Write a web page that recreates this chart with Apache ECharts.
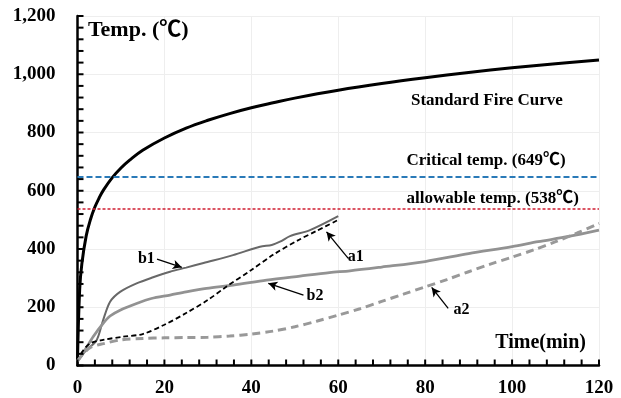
<!DOCTYPE html>
<html>
<head>
<meta charset="utf-8">
<script src="https://cdn.jsdelivr.net/npm/echarts@6/dist/echarts.min.js"></script>
<style>
  html, body { margin: 0; padding: 0; background: #fff; }
  #chart { width: 621px; height: 398px; }
</style>
</head>
<body>
<div id="chart"></div>
<script>
// Standard fire curve (furnace temperature)
const fireTime = [0, 0.5, 1, 2, 3, 4, 5, 6, 8, 10, 12, 15, 20, 25, 30, 35, 40, 45, 50, 60, 70, 80, 90, 100, 110, 120];
const fireTemp = [20, 261, 349, 445, 502, 544, 576, 603, 645, 678, 705, 739, 781, 815, 842, 865, 885, 902, 918, 945, 968, 988, 1006, 1022, 1036, 1049];

// Measured steel temperatures
const b1Time = [0, 2, 4.4, 5.9, 7.5, 9.8, 13.6, 17.4, 21.3, 25, 29, 35.8, 42, 44.7, 46.6, 48.9, 53.5, 60];
const b1Temp = [15, 52, 87, 156, 219, 253, 282, 303, 322, 336, 352, 379, 408, 414, 425, 444, 465, 513];

const b2Time = [0, 1, 2, 3.6, 5.9, 7.5, 9.8, 13.6, 17, 21.3, 25, 29.7, 35.8, 43.5, 51.2, 58, 62.7, 70, 80, 90, 100, 106, 113, 120];
const b2Temp = [15, 35, 60, 99, 145, 170, 190, 213, 230, 242, 253, 265, 276, 293, 307, 319, 325, 338, 357, 384, 408, 425, 443, 465];

const a1Time = [0, 1, 2.9, 5.9, 10.5, 15, 20, 25, 30, 34, 40, 45, 51, 55, 60];
const a1Temp = [15, 45, 76, 88, 99, 108, 140, 180, 225, 268, 328, 380, 432, 462, 500];

const a2Time = [0, 1, 3, 6, 10, 15, 20, 25, 30, 35, 40, 45, 50, 55, 60, 65, 70, 75, 80, 85, 90, 95, 100, 105, 110, 115, 120];
const a2Temp = [15, 35, 62, 75, 88, 93, 95, 96, 97, 101, 108, 118, 133, 152, 173, 195, 220, 245, 270, 295, 322, 348, 372, 397, 425, 455, 488];

// Limit temperatures
const criticalTemp = 649;
const allowableTemp = 538;

// Axis ranges
const xMin = 0, xMax = 120, xStep = 20;
const yMin = 0, yMax = 1200, yStep = 200;
const minorSplits = 5;

// Text annotations placed in data space
const curveLabels = [
  { text: 'b1', at: [17.8, 366], align: 'right' },
  { text: 'b2', at: [52.7, 239], align: 'left' },
  { text: 'a1', at: [62.2, 372], align: 'left' },
  { text: 'a2', at: [86.5, 190], align: 'left' }
];
const arrowLines = [
  [[18.3, 365], [24.0, 337]],
  [[52.0, 242], [43.9, 282]],
  [[62.3, 368], [57.3, 459]],
  [[85.3, 196], [81.5, 268]]
];
const titleLabels = [
  { text: 'Standard Fire Curve', at: [94.2, 911], align: 'center', size: 17 },
  { text: 'Critical temp. (649\u2103)', at: [75.7, 702], align: 'left', size: 17 },
  { text: 'allowable temp. (538\u2103)', at: [75.7, 574], align: 'left', size: 17 },
  { text: 'Temp. (\u2103)', at: [2.4, 1152], align: 'left', size: 22 },
  { text: 'Time(min)', at: [117, 77], align: 'right', size: 20 }
];

const FONT = "'Liberation Serif', 'Times New Roman', 'Noto Sans CJK SC', serif";
const zip = (xs, ys) => xs.map((x, i) => [x, ys[i]]);

// Tick positions along each axis (major + minor)
const xTickVals = [];
for (let v = xMin; v <= xMax + 1e-9; v += xStep / minorSplits) xTickVals.push(+v.toFixed(6));
const yTickVals = [];
for (let v = yMin; v <= yMax + 1e-9; v += yStep / minorSplits) yTickVals.push(+v.toFixed(6));

const chart = echarts.init(document.getElementById('chart'));

chart.setOption({
  animation: false,
  grid: { left: 77.5, right: 22, top: 16, bottom: 32.5 },
  xAxis: {
    type: 'value', min: xMin, max: xMax, interval: xStep,
    axisLine: { show: true, lineStyle: { color: '#000', width: 2.5 } },
    axisTick: { show: false },
    splitLine: { show: true, lineStyle: { color: '#eeeeee', width: 1 } },
    axisLabel: { color: '#000', fontFamily: FONT, fontWeight: 'bold', fontSize: 19, margin: 13 }
  },
  yAxis: {
    type: 'value', min: yMin, max: yMax, interval: yStep,
    axisLine: { show: true, lineStyle: { color: '#000', width: 2.5 } },
    axisTick: { show: false },
    splitLine: { show: true, lineStyle: { color: '#eeeeee', width: 1 } },
    axisLabel: {
      color: '#000', fontFamily: FONT, fontWeight: 'bold', fontSize: 19, margin: 22,
      formatter: v => v.toLocaleString('en-US')
    }
  },
  series: [
    {
      name: 'Standard Fire Curve', type: 'line', data: zip(fireTime, fireTemp),
      showSymbol: false, smooth: 0.4,
      lineStyle: { color: '#000', width: 3 },
      markLine: {
        silent: true, symbol: ['none', 'none'],
        label: { show: false },
        data: [
          { yAxis: criticalTemp, lineStyle: { color: '#2a7ab8', width: 2, type: [6, 3] } },
          { yAxis: allowableTemp, lineStyle: { color: '#d01c30', width: 1.5, type: [3, 2] } }
        ]
      }
    },
    {
      name: 'b1', type: 'line', data: zip(b1Time, b1Temp),
      showSymbol: false, smooth: 0.3,
      lineStyle: { color: '#686868', width: 2 }
    },
    {
      name: 'b2', type: 'line', data: zip(b2Time, b2Temp),
      showSymbol: false, smooth: 0.3,
      lineStyle: { color: '#929292', width: 2.8 }
    },
    {
      name: 'a1', type: 'line', data: zip(a1Time, a1Temp),
      showSymbol: false, smooth: 0.3,
      lineStyle: { color: '#000', width: 1.8, type: [5, 3] }
    },
    {
      name: 'a2', type: 'line', data: zip(a2Time, a2Temp),
      showSymbol: false, smooth: 0.3,
      lineStyle: { color: '#999', width: 3, type: [8, 5] }
    },
    {
      name: 'pointers', type: 'line', data: [],
      markLine: {
        silent: true, symbol: ['none', 'arrow'], symbolSize: [7, 9],
        label: { show: false },
        lineStyle: { color: '#000', width: 1.3, type: 'solid' },
        data: arrowLines.map(([p, q]) => [{ coord: p }, { coord: q }])
      }
    },
    // Inward comb ticks on the time axis
    {
      name: 'xTicks', type: 'scatter', silent: true, clip: false, z: 10,
      data: xTickVals.map(v => [v, yMin]),
      symbol: 'rect', symbolSize: [2, 6], symbolOffset: [0, -3],
      itemStyle: { color: '#000', opacity: 1 }
    },
    // Inward comb ticks on the temperature axis
    {
      name: 'yTicks', type: 'scatter', silent: true, clip: false, z: 10,
      data: yTickVals.map(v => [xMin, v]),
      symbol: 'rect', symbolSize: [6, 2], symbolOffset: [3, 0],
      itemStyle: { color: '#000', opacity: 1 }
    }
  ]
});

// Annotation text through the axis scales
const toPx = p => chart.convertToPixel({ xAxisIndex: 0, yAxisIndex: 0 }, p);
const texts = curveLabels.map(l => ({ text: l.text, at: l.at, align: l.align, size: 16 }))
  .concat(titleLabels);
chart.setOption({
  graphic: texts.map(t => {
    const [x, y] = toPx(t.at);
    return {
      type: 'text', x: x, y: y,
      style: {
        text: t.text, fill: '#000',
        font: 'bold ' + t.size + 'px ' + FONT,
        textAlign: t.align, textVerticalAlign: 'middle'
      }
    };
  })
});
</script>
</body>
</html>
